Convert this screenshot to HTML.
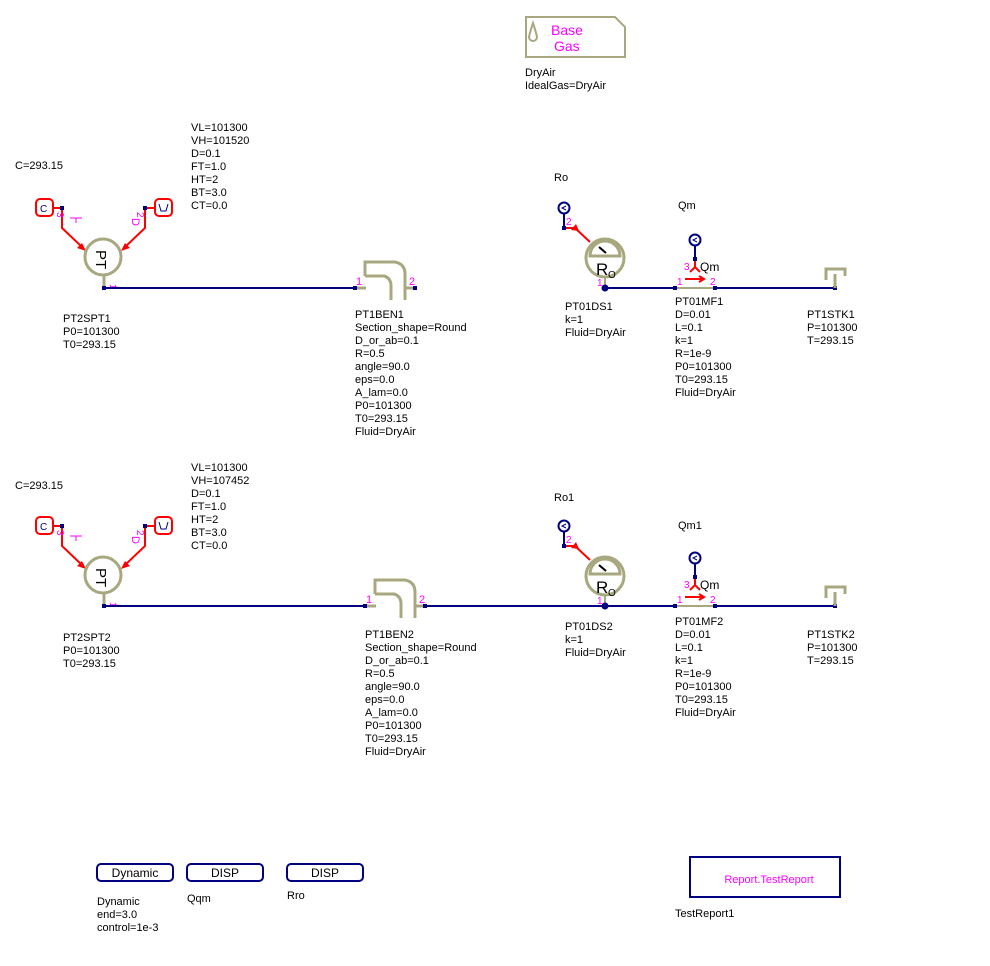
<!DOCTYPE html>
<html><head><meta charset="utf-8"><style>
body{margin:0;background:#fff}
svg{display:block}
text{font-family:"Liberation Sans",sans-serif;font-size:11px;fill:#000}
.m{fill:#ff00ff}
.k{fill:none;stroke:#a8a880;stroke-width:3}
.n{stroke:#000080;stroke-width:2;fill:none}
.r{stroke:#ff0000;stroke-width:2;fill:none}
</style></head><body>
<svg width="990" height="966" viewBox="0 0 990 966">
<defs>
<g id="row">
 <rect x="36" y="199" width="17" height="17" rx="4" fill="none" stroke="#f00" stroke-width="2"/>
 <text x="40" y="212" style="font-size:10px;fill:#000080">C</text>
 <rect x="155" y="199" width="17" height="17" rx="4" fill="none" stroke="#f00" stroke-width="2"/>
 <path d="M159 204 l2 7 h5 l2 -7" fill="none" stroke="#000080" stroke-width="1"/>
 <path d="M53 208 H62 V228 L82 247" class="r"/>
 <path d="M154 208 H145 V228 L125 247" class="r"/>
 <path d="M86 251 l-9 -3 l5 -5 z M121 251 l9 -3 l-5 -5 z" fill="#f00"/>
 <rect x="60" y="206" width="4" height="4" fill="#000080"/>
 <rect x="143" y="206" width="4" height="4" fill="#000080"/>
 <text class="m" transform="translate(57,212) rotate(90)" style="font-size:10px">3</text>
 <text class="m" transform="translate(137,212) rotate(90)" style="font-size:10px">2</text>
 <path d="M70 218 h12 M76 218 v5" stroke="#f0f" stroke-width="1"/>
 <text class="m" transform="translate(132,218) rotate(90)" style="font-size:11px">D</text>
 <circle cx="103" cy="257" r="18" class="k"/>
 <text transform="translate(96,250) rotate(90)" style="font-size:15px">PT</text>
 <line x1="104" y1="275" x2="104" y2="288" class="k" stroke-width="2"/>
 <text class="m" transform="translate(110,284) rotate(90)" style="font-size:9px">1</text>
 <line x1="104" y1="288" x2="356" y2="288" class="n"/>
 <rect x="102" y="286" width="4" height="4" fill="#000080"/>
 <g id="bend">
  <rect x="353" y="286" width="4" height="4" fill="#000080"/>
  <path d="M357 288 H366 M365 276 V262 H395 Q405 264 405 274 V300 M365 276 H384 Q391 278 391 286 V300 M405 288 H414" class="k" stroke-width="2"/>
  <rect x="413" y="286" width="4" height="4" fill="#000080"/>
  <text class="m" x="356" y="285">1</text>
  <text class="m" x="409" y="285">2</text>
 </g>
 <line x1="605" y1="288" x2="676" y2="288" class="n"/>
 <line x1="676" y1="288" x2="715" y2="288" stroke="#a8a880" stroke-width="2"/>
 <line x1="715" y1="288" x2="835" y2="288" class="n"/>
 <rect x="673" y="286" width="4" height="4" fill="#000080"/>
 <rect x="713" y="286" width="4" height="4" fill="#000080"/>
 <rect x="833" y="286" width="4" height="4" fill="#000080"/>
 <circle cx="605" cy="258" r="19" class="k"/>
 <path d="M590 256 A15 15 0 0 1 620 256 Z" fill="none" stroke="#a8a880" stroke-width="3"/>
 <line x1="599" y1="247" x2="606" y2="253" stroke="#000" stroke-width="2"/>
 <text x="596" y="275" style="font-size:17px">R</text>
 <text x="608" y="278" style="font-size:10px">O</text>
 <line x1="605" y1="277" x2="605" y2="288" stroke="#a8a880" stroke-width="2"/>
 <circle cx="605" cy="288" r="3.5" fill="#000080"/>
 <text class="m" x="597" y="286" style="font-size:10px">1</text>
 <circle cx="564" cy="208" r="5.5" fill="none" stroke="#000080" stroke-width="2"/>
 <path d="M566 206 L562 208 L566 210" stroke="#000080" stroke-width="1" fill="none"/>
 <line x1="564" y1="214" x2="564" y2="228" class="n"/>
 <rect x="562" y="226" width="4" height="4" fill="#000080"/>
 <path d="M566 228 H575 L590 242" class="r"/>
 <path d="M576 224 l-5 6 l8 1 z" fill="#f00"/>
 <text class="m" x="566" y="225" style="font-size:10px">2</text>
 <circle cx="695" cy="240" r="5.5" fill="none" stroke="#000080" stroke-width="2"/>
 <path d="M697 238 L693 240 L697 242" stroke="#000080" stroke-width="1" fill="none"/>
 <line x1="695" y1="246" x2="695" y2="259" class="n"/>
 <rect x="693" y="257" width="4" height="4" fill="#000080"/>
 <path d="M695 261 V268 M690 272 L695 267 L700 272" class="r"/>
 <text class="m" x="684" y="270" style="font-size:10px">3</text>
 <text x="700" y="271" style="font-size:12px">Qm</text>
 <path d="M685 279 H704 M699 276 L704 279 L699 282" class="r" stroke-width="1"/>
 <text class="m" x="677" y="285" style="font-size:10px">1</text>
 <text class="m" x="710" y="285" style="font-size:10px">2</text>
 <path d="M826 280 V269 H845 V276 M835 274 V288" class="k" stroke-width="2"/>
</g>
</defs>
<use href="#row"/>
<g transform="translate(0,318)"><use href="#row"/></g>
<rect x="350" y="575" width="75" height="45" fill="#fff"/>
<line x1="104" y1="606" x2="366" y2="606" class="n"/>
<line x1="425" y1="606" x2="605" y2="606" class="n"/>
<g transform="translate(10,318)"><use href="#bend"/></g>

<path d="M526 17 H615 L625 27 V57 H526 Z" fill="none" stroke="#a8a880" stroke-width="2"/>
<path d="M533 23 Q530 32 529 37 A4 4 0 0 0 537 37 Q536 32 533 23 Z" fill="none" stroke="#a8a880" stroke-width="2"/>
<text class="m" x="551" y="35" style="font-size:14px">Base</text>
<text class="m" x="554" y="51" style="font-size:14px">Gas</text>
<text x="525" y="76">DryAir</text>
<text x="525" y="89">IdealGas=DryAir</text>

<text x="15" y="169">C=293.15</text>
<text x="191" y="131">VL=101300</text><text x="191" y="144">VH=101520</text><text x="191" y="157">D=0.1</text><text x="191" y="170">FT=1.0</text><text x="191" y="183">HT=2</text><text x="191" y="196">BT=3.0</text><text x="191" y="209">CT=0.0</text>
<text x="63" y="322">PT2SPT1</text><text x="63" y="335">P0=101300</text><text x="63" y="348">T0=293.15</text>
<text x="355" y="318">PT1BEN1</text><text x="355" y="331">Section_shape=Round</text><text x="355" y="344">D_or_ab=0.1</text><text x="355" y="357">R=0.5</text><text x="355" y="370">angle=90.0</text><text x="355" y="383">eps=0.0</text><text x="355" y="396">A_lam=0.0</text><text x="355" y="409">P0=101300</text><text x="355" y="422">T0=293.15</text><text x="355" y="435">Fluid=DryAir</text>
<text x="554" y="181">Ro</text>
<text x="678" y="209">Qm</text>
<text x="565" y="310">PT01DS1</text><text x="565" y="323">k=1</text><text x="565" y="336">Fluid=DryAir</text>
<text x="675" y="305">PT01MF1</text><text x="675" y="318">D=0.01</text><text x="675" y="331">L=0.1</text><text x="675" y="344">k=1</text><text x="675" y="357">R=1e-9</text><text x="675" y="370">P0=101300</text><text x="675" y="383">T0=293.15</text><text x="675" y="396">Fluid=DryAir</text>
<text x="807" y="318">PT1STK1</text><text x="807" y="331">P=101300</text><text x="807" y="344">T=293.15</text>

<text x="15" y="489">C=293.15</text>
<text x="191" y="471">VL=101300</text><text x="191" y="484">VH=107452</text><text x="191" y="497">D=0.1</text><text x="191" y="510">FT=1.0</text><text x="191" y="523">HT=2</text><text x="191" y="536">BT=3.0</text><text x="191" y="549">CT=0.0</text>
<text x="63" y="641">PT2SPT2</text><text x="63" y="654">P0=101300</text><text x="63" y="667">T0=293.15</text>
<text x="365" y="638">PT1BEN2</text><text x="365" y="651">Section_shape=Round</text><text x="365" y="664">D_or_ab=0.1</text><text x="365" y="677">R=0.5</text><text x="365" y="690">angle=90.0</text><text x="365" y="703">eps=0.0</text><text x="365" y="716">A_lam=0.0</text><text x="365" y="729">P0=101300</text><text x="365" y="742">T0=293.15</text><text x="365" y="755">Fluid=DryAir</text>
<text x="554" y="501">Ro1</text>
<text x="678" y="529">Qm1</text>
<text x="565" y="630">PT01DS2</text><text x="565" y="643">k=1</text><text x="565" y="656">Fluid=DryAir</text>
<text x="675" y="625">PT01MF2</text><text x="675" y="638">D=0.01</text><text x="675" y="651">L=0.1</text><text x="675" y="664">k=1</text><text x="675" y="677">R=1e-9</text><text x="675" y="690">P0=101300</text><text x="675" y="703">T0=293.15</text><text x="675" y="716">Fluid=DryAir</text>
<text x="807" y="638">PT1STK2</text><text x="807" y="651">P=101300</text><text x="807" y="664">T=293.15</text>

<rect x="97" y="864" width="76" height="17" rx="4" fill="none" stroke="#000080" stroke-width="2"/>
<text x="135" y="877" text-anchor="middle" style="font-size:12px">Dynamic</text>
<rect x="187" y="864" width="76" height="17" rx="4" fill="none" stroke="#000080" stroke-width="2"/>
<text x="225" y="877" text-anchor="middle" style="font-size:12px">DISP</text>
<rect x="287" y="864" width="76" height="17" rx="4" fill="none" stroke="#000080" stroke-width="2"/>
<text x="325" y="877" text-anchor="middle" style="font-size:12px">DISP</text>
<text x="97" y="905">Dynamic</text><text x="97" y="918">end=3.0</text><text x="97" y="931">control=1e-3</text>
<text x="187" y="902">Qqm</text>
<text x="287" y="899">Rro</text>
<rect x="690" y="857" width="150" height="40" fill="none" stroke="#000080" stroke-width="2"/>
<text class="m" x="769" y="883" text-anchor="middle">Report.TestReport</text>
<text x="675" y="917">TestReport1</text>
</svg>
</body></html>
